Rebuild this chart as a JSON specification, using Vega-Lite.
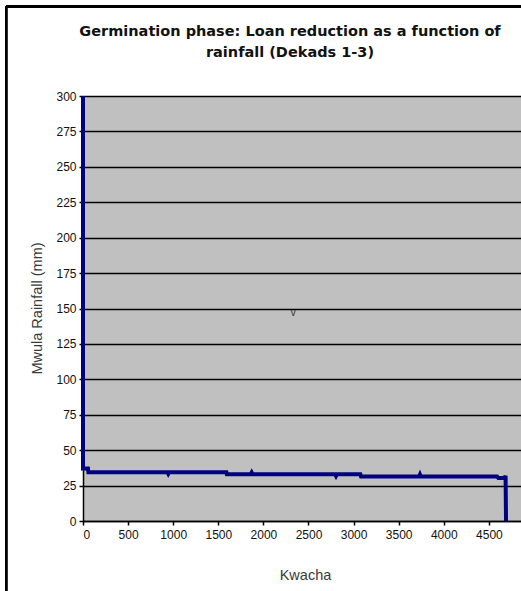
{
  "$schema": "https://vega.github.io/schema/vega-lite/v6.json",
  "autosize": "none",
  "width": 438,
  "height": 425,
  "padding": {"left": 83, "top": 96, "right": 0, "bottom": 70},
  "background": "white",
  "title": {
    "text": ["Germination phase: Loan reduction as a function of", "rainfall (Dekads 1-3)"],
    "font": "DejaVu Sans",
    "fontSize": 14.5,
    "fontWeight": "bold",
    "color": "#111111",
    "lineHeight": 21,
    "anchor": "middle",
    "dx": -12,
    "offset": -55
  },
  "config": {
    "view": {"fill": "#c0c0c0", "stroke": null},
    "axis": {
      "labelFont": "Liberation Sans",
      "labelFontSize": 12,
      "labelColor": "#111111",
      "labelOverlap": false,
      "titleFont": "Liberation Sans",
      "titleFontSize": 14.5,
      "titleFontWeight": "normal",
      "titleColor": "#3a3a3a",
      "domainColor": "#000000",
      "domainWidth": 1.5,
      "tickColor": "#000000",
      "tickSize": 4,
      "tickWidth": 1.5,
      "gridColor": "#000000",
      "gridWidth": 1.5,
      "gridOpacity": 1
    }
  },
  "data": {
    "values": [
      {"kwacha": 0, "rain": 300},
      {"kwacha": 0, "rain": 37},
      {"kwacha": 55, "rain": 37},
      {"kwacha": 60, "rain": 34.5},
      {"kwacha": 935, "rain": 34.5},
      {"kwacha": 945, "rain": 33.3},
      {"kwacha": 955, "rain": 34.5},
      {"kwacha": 1590, "rain": 34.5},
      {"kwacha": 1595, "rain": 33},
      {"kwacha": 1860, "rain": 33},
      {"kwacha": 1870, "rain": 34.2},
      {"kwacha": 1880, "rain": 33},
      {"kwacha": 2795, "rain": 33},
      {"kwacha": 2805, "rain": 31.8},
      {"kwacha": 2815, "rain": 33},
      {"kwacha": 3075, "rain": 33},
      {"kwacha": 3082, "rain": 31.5},
      {"kwacha": 3728, "rain": 31.5},
      {"kwacha": 3736, "rain": 32.7},
      {"kwacha": 3744, "rain": 31.5},
      {"kwacha": 4590, "rain": 31.5},
      {"kwacha": 4605, "rain": 30.3},
      {"kwacha": 4675, "rain": 30.3},
      {"kwacha": 4685, "rain": 32},
      {"kwacha": 4690, "rain": 0}
    ]
  },
  "layer": [
    {
      "mark": {"type": "line", "color": "#000080", "strokeWidth": 4, "strokeJoin": "miter"},
      "encoding": {
        "x": {
          "field": "kwacha",
          "type": "quantitative",
          "scale": {"domain": [0, 4856], "nice": false, "zero": false},
          "axis": {
            "values": [0, 500, 1000, 1500, 2000, 2500, 3000, 3500, 4000, 4500],
            "format": "d",
            "grid": false,
            "title": "Kwacha",
            "titlePadding": 28,
            "titleX": 222,
            "labelPadding": 4
          }
        },
        "y": {
          "field": "rain",
          "type": "quantitative",
          "scale": {"domain": [0, 300], "nice": false},
          "axis": {
            "values": [0, 25, 50, 75, 100, 125, 150, 175, 200, 225, 250, 275, 300],
            "format": "d",
            "grid": true,
            "title": "Mwula Rainfall (mm)",
            "titlePadding": 11,
            "titleY": 212,
            "labelPadding": 3
          }
        },
        "order": {"field": "__index", "type": "quantitative"}
      }
    },
    {
      "data": {"values": [{"kwacha": 2330, "rain": 147, "label": "v"}]},
      "mark": {"type": "text", "font": "Liberation Sans", "fontSize": 10, "color": "#333333"},
      "encoding": {
        "x": {"field": "kwacha", "type": "quantitative", "axis": {"values": [0, 500, 1000, 1500, 2000, 2500, 3000, 3500, 4000, 4500], "format": "d", "grid": false, "title": "Kwacha"}},
        "y": {"field": "rain", "type": "quantitative", "axis": {"values": [0, 25, 50, 75, 100, 125, 150, 175, 200, 225, 250, 275, 300], "format": "d", "grid": true, "title": "Mwula Rainfall (mm)"}},
        "text": {"field": "label"}
      }
    },
    {
      "mark": {"type": "rule", "color": "#000000", "strokeWidth": 2, "clip": false},
      "encoding": {
        "x": {"datum": -853, "axis": {"values": [0, 500, 1000, 1500, 2000, 2500, 3000, 3500, 4000, 4500], "format": "d", "grid": false, "title": "Kwacha"}},
        "y": {"datum": 363, "axis": {"values": [0, 25, 50, 75, 100, 125, 150, 175, 200, 225, 250, 275, 300], "format": "d", "grid": true, "title": "Mwula Rainfall (mm)"}},
        "y2": {"datum": -55}
      }
    },
    {
      "mark": {"type": "rule", "color": "#000000", "strokeWidth": 2, "clip": false},
      "encoding": {
        "y": {"datum": 363, "axis": {"values": [0, 25, 50, 75, 100, 125, 150, 175, 200, 225, 250, 275, 300], "format": "d", "grid": true, "title": "Mwula Rainfall (mm)"}},
        "x": {"datum": -853, "axis": {"values": [0, 500, 1000, 1500, 2000, 2500, 3000, 3500, 4000, 4500], "format": "d", "grid": false, "title": "Kwacha"}},
        "x2": {"datum": 5000}
      }
    }
  ]
}
